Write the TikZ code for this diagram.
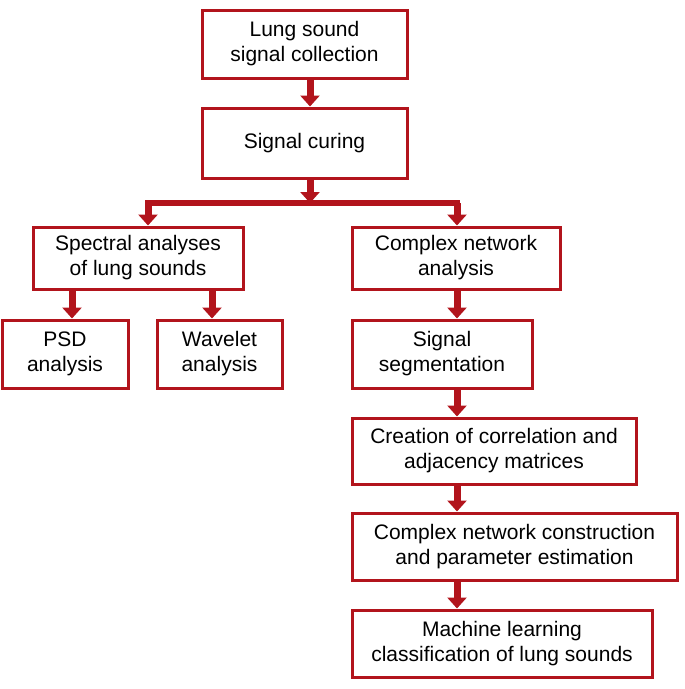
\documentclass[tikz,border=0pt]{standalone}
\usepackage{fontspec}
\setmainfont{Liberation Sans}
\usetikzlibrary{arrows.meta}
\definecolor{dred}{RGB}{178,20,28}
\begin{document}
\begin{tikzpicture}[x=1pt,y=-1pt,
  box/.style={draw=dred,line width=3pt,align=center,inner sep=0pt,font=\fontsize{21}{25}\selectfont},
  arr/.style={draw=dred,line width=7pt,-{Triangle[width=19pt,length=11pt]},dred}]
\useasboundingbox (0,0) rectangle (685,689);
\newcommand{\bx}[6]{\node[box,minimum width=#4-#2,minimum height=#5-#3] (#1) at ({(#2+#4)/2},{(#3+#5)/2}) {#6};}
\bx{a}{202}{10}{407}{78}{Lung sound\\signal collection}
\bx{b}{202}{108}{407}{178}{Signal curing}
\bx{c}{33}{227}{243}{289}{Spectral analyses\\of lung sounds}
\bx{d}{352}{227}{560}{289}{Complex network\\analysis}
\bx{e}{2}{320}{128}{388}{PSD\\analysis}
\bx{f}{157}{320}{282}{388}{Wavelet\\analysis}
\bx{g}{352}{320}{532}{388}{Signal\\segmentation}
\bx{h}{352}{418}{636}{484}{Creation of correlation and\\adjacency matrices}
\bx{i}{352}{513}{677}{580}{Complex network construction\\and parameter estimation}
\bx{j}{352}{610}{652}{677}{Machine learning\\classification of lung sounds}
\coordinate (m) at (310,203);
\coordinate (l) at (148,203);
\coordinate (r) at (457,203);
\draw[arr] (a.south-|m) -- (b.north-|m);
\draw[arr] (b.south-|m) -- (m);
\draw[draw=dred,line width=6pt] ([xshift=-3pt]l) -- ([xshift=3pt]r);
\draw[arr] (l) -- (l|-c.north);
\draw[arr] (r) -- (r|-d.north);
\draw[arr] (c.south-|72,0) -- (e.north-|72,0);
\draw[arr] (c.south-|212,0) -- (f.north-|212,0);
\draw[arr] (d.south-|457,0) -- (g.north-|457,0);
\draw[arr] (g.south-|457,0) -- (h.north-|457,0);
\draw[arr] (h.south-|457,0) -- (i.north-|457,0);
\draw[arr] (i.south-|457,0) -- (j.north-|457,0);
\end{tikzpicture}
\end{document}
